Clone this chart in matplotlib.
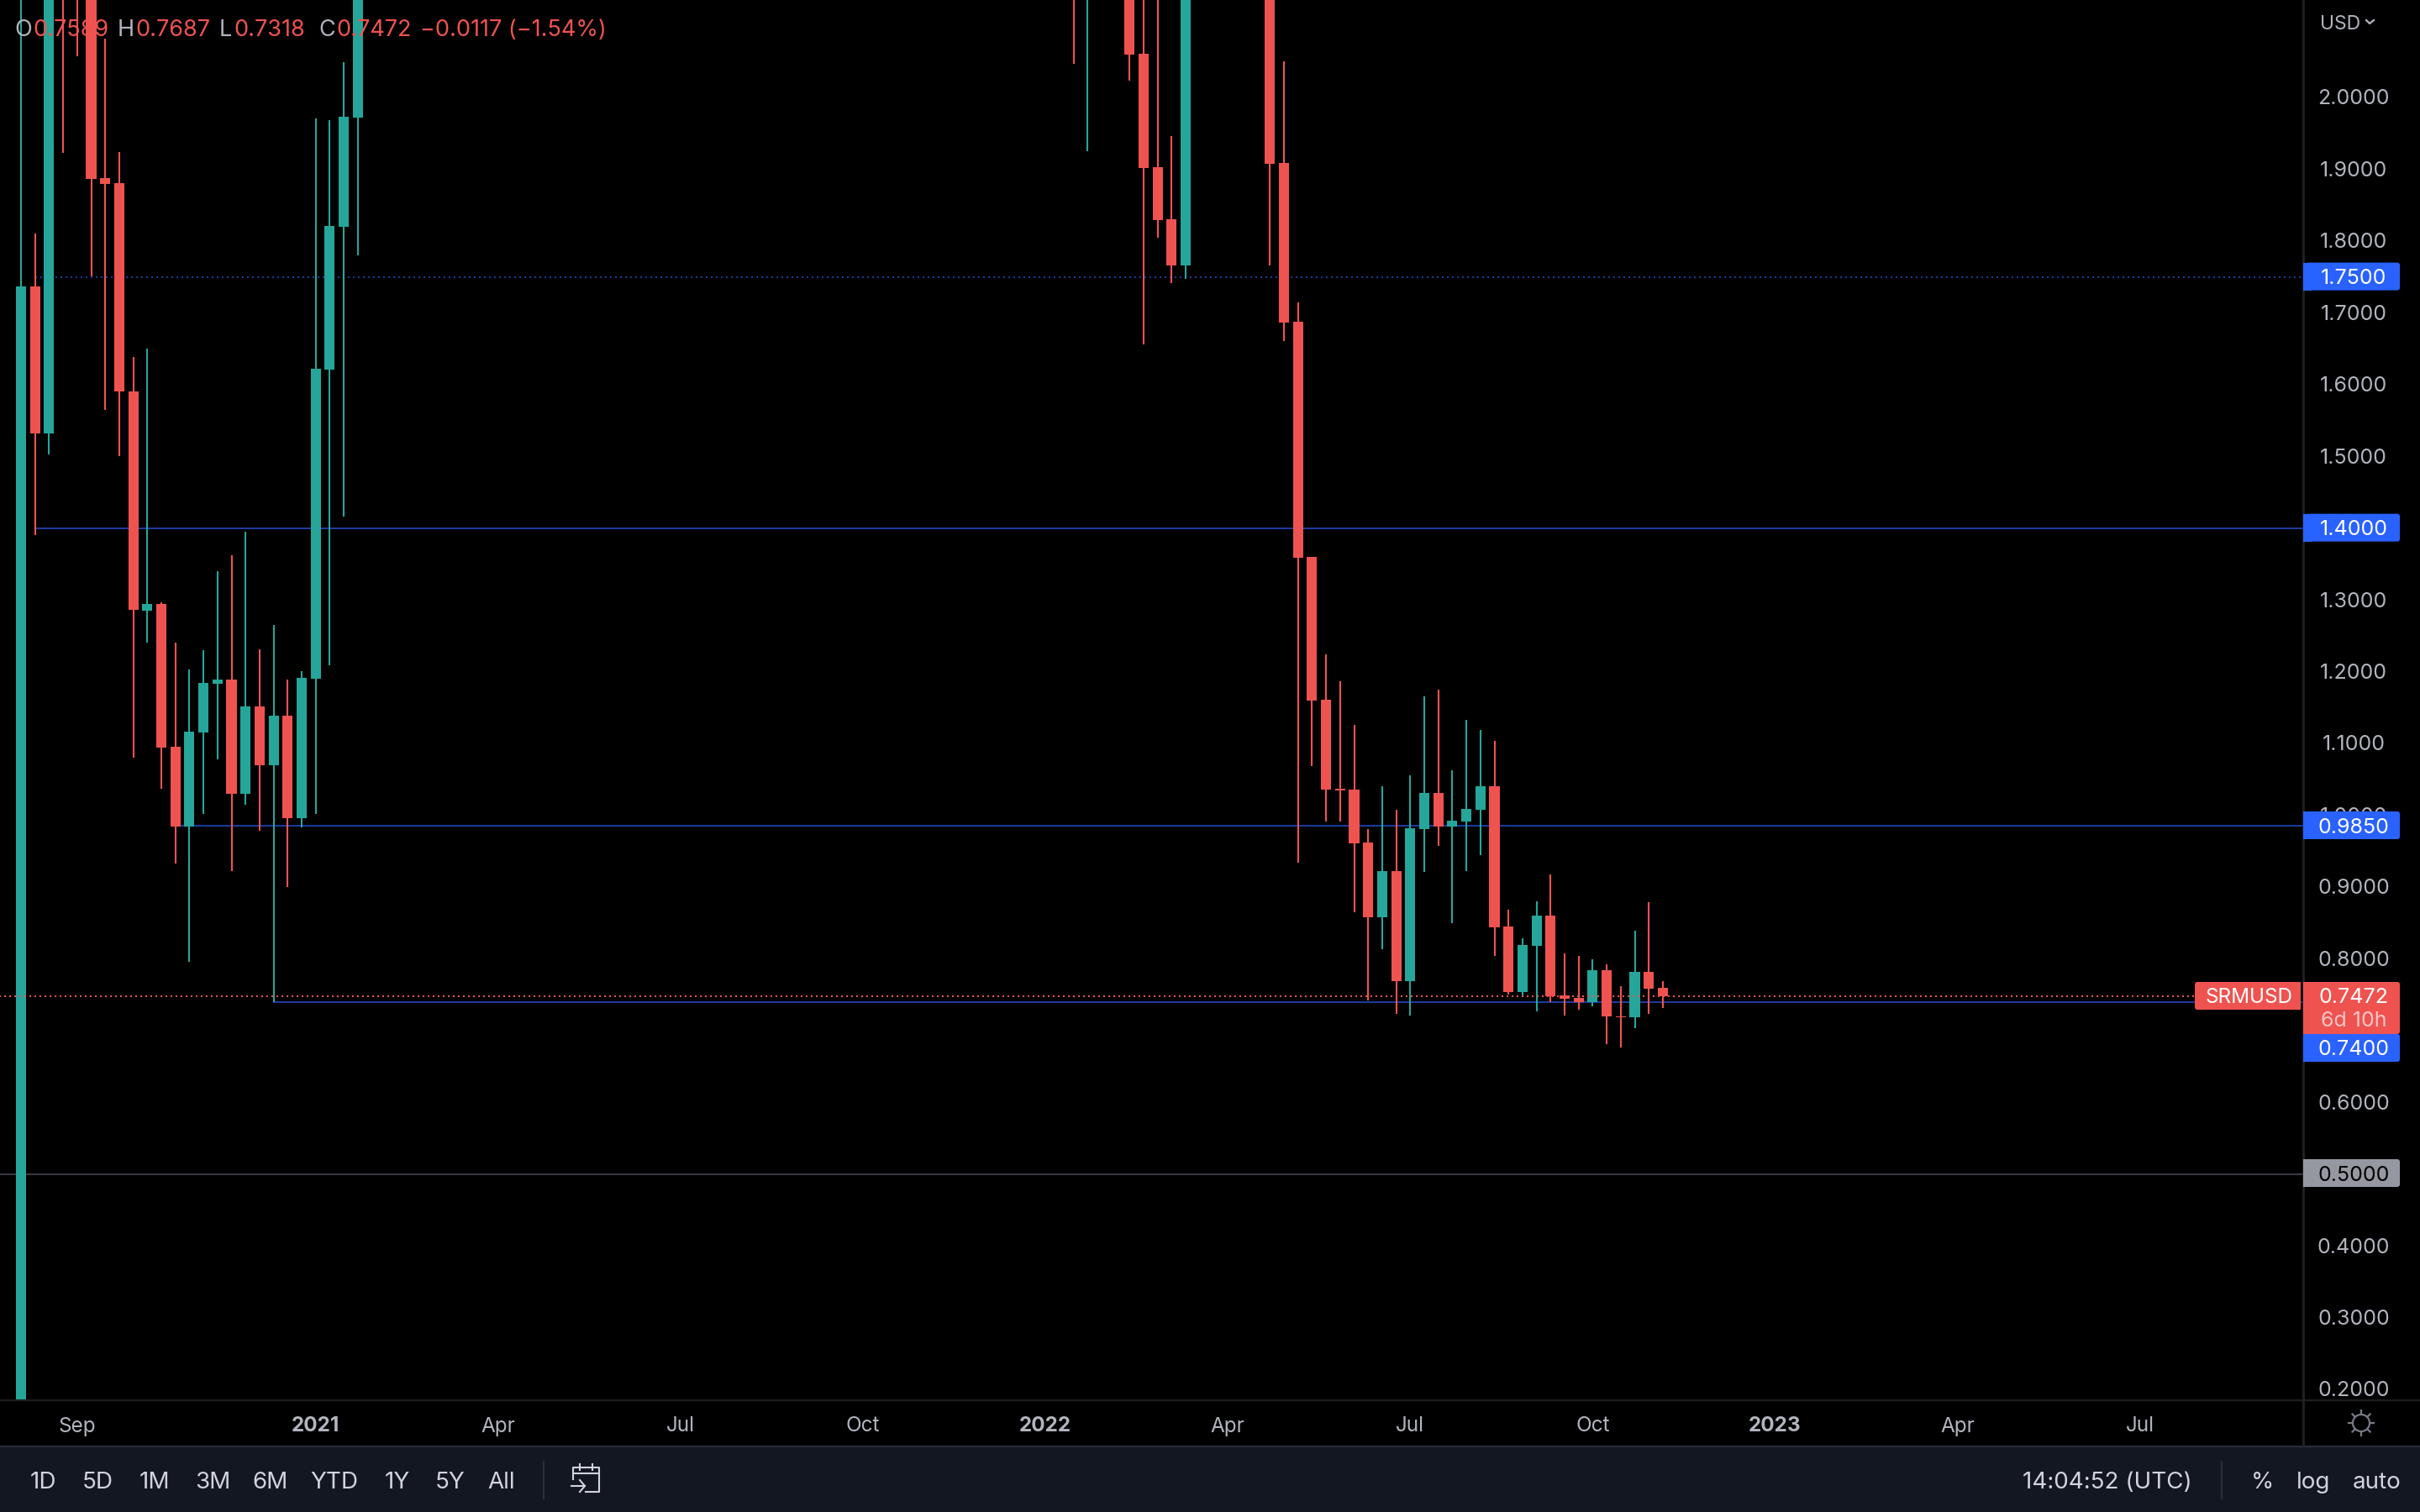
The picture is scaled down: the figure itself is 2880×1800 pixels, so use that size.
import matplotlib
matplotlib.use("Agg")
import matplotlib.pyplot as plt
from matplotlib.patches import FancyBboxPatch, Rectangle, Circle

# weekly candles, only the ones that reach into the visible price range
weeks = [0, 1, 2, 3, 4, 5, 6, 7, 8, 9, 10, 11, 12, 13, 14, 15, 16, 17, 18, 19,
         20, 21, 22, 23, 24, 75, 76, 79, 80, 81, 82, 83, 89, 90, 91, 92, 93, 94,
         95, 96, 97, 98, 99, 100, 101, 102, 103, 104, 105, 106, 107, 108, 109,
         110, 111, 112, 113, 114, 115, 116, 117]
opens = [0.15, 1.7367, 1.5324, 2.40, 2.35, 2.25, 1.8876, 1.8806, 1.5904, 1.2849,
         1.2942, 1.0953, 0.9841, 1.1152, 1.1831, 1.1889, 1.0297, 1.1514, 1.0695,
         1.1386, 0.9958, 1.1901, 1.6208, 1.8198, 1.9719, 2.30, 2.25, 2.20, 2.0609,
         1.9029, 1.8303, 1.7659, 2.30, 1.9087, 1.6875, 1.3598, 1.1608, 1.0368,
         1.0356, 0.9618, 0.8577, 0.9221, 0.7687, 0.9806, 1.0309, 0.9841, 0.9911,
         1.0075, 1.0403, 0.8448, 0.7535, 0.8179, 0.8600, 0.7488, 0.7453, 0.7395,
         0.7839, 0.7196, 0.7184, 0.7816, 0.7589]
highs = [2.45, 1.8104, 2.60, 2.50, 2.45, 2.30, 2.0819, 1.9239, 1.6389, 1.6500,
         1.2966, 1.2404, 1.2029, 1.2299, 1.3399, 1.3621, 1.3949, 1.2310, 1.2650,
         1.1889, 1.2006, 1.9707, 1.9684, 2.0497, 2.50, 2.40, 2.35, 2.30, 2.30,
         2.20, 1.9462, 2.30, 2.35, 2.0503, 1.7144, 1.3598, 1.2240, 1.1866, 1.1257,
         0.9806, 1.0403, 1.0075, 1.0555, 1.1655, 1.1749, 1.0625, 1.1327, 1.1187,
         1.1035, 0.8682, 0.8284, 0.8799, 0.9174, 0.8073, 0.8039, 0.7992, 0.7921,
         0.7617, 0.8390, 0.8787, 0.7687]
lows = [0.10, 1.3902, 1.5026, 1.9223, 2.0573, 1.7512, 1.5646, 1.5002, 1.0801,
        1.2404, 1.0368, 0.9326, 0.7956, 1.0016, 1.0777, 0.9221, 1.0145, 0.9782,
        0.7389, 0.8998, 0.9829, 1.0016, 1.2088, 1.4154, 1.7794, 2.0468, 1.9251,
        2.0234, 1.6559, 1.8045, 1.7413, 1.7472, 1.7659, 1.6606, 0.9338, 1.0684,
        0.9911, 0.9911, 0.8647, 0.7418, 0.8132, 0.7231, 0.7208, 0.9209, 0.9572,
        0.8495, 0.9221, 0.9443, 0.8039, 0.7500, 0.7477, 0.7266, 0.7395, 0.7208,
        0.7289, 0.7336, 0.6813, 0.6766, 0.7032, 0.7231, 0.7318]
closes = [1.7367, 1.5324, 2.30, 2.35, 2.25, 1.8868, 1.8794, 1.5898, 1.2855, 1.2942,
          1.0941, 0.9841, 1.1163, 1.1842, 1.1889, 1.0297, 1.1514, 1.0695, 1.1386,
          0.9958, 1.1912, 1.6220, 1.8209, 1.9731, 2.30, 2.25, 2.30, 2.0597, 1.9017,
          1.8291, 1.7659, 2.30, 1.9075, 1.6863, 1.3586, 1.1597, 1.0356, 1.0345,
          0.9607, 0.8577, 0.9221, 0.7687, 0.9817, 1.0309, 0.9841, 0.9923, 1.0087,
          1.0403, 0.8436, 0.7535, 0.8191, 0.8600, 0.7477, 0.7441, 0.7395, 0.7839,
          0.7196, 0.7185, 0.7816, 0.7582, 0.7472]

price_ticks = [2.0, 1.9, 1.8, 1.7, 1.6, 1.5, 1.3, 1.2, 1.1, 1.0, 0.9, 0.8, 0.6, 0.4, 0.3, 0.2]
tick_labels = ["2.0000", "1.9000", "1.8000", "1.7000", "1.6000", "1.5000", "1.3000", "1.2000",
               "1.1000", "1.0000", "0.9000", "0.8000", "0.6000", "0.4000", "0.3000", "0.2000"]
date_pos = [4, 21, 34, 47, 60, 73, 86, 99, 112, 125, 138, 151]
date_labels = ["Sep", "2021", "Apr", "Jul", "Oct", "2022", "Apr", "Jul", "Oct", "2023", "Apr", "Jul"]
range_buttons = ["1D", "5D", "1M", "3M", "6M", "YTD", "1Y", "5Y", "All"]
button_x = [51, 116, 184, 253, 322, 398, 473, 536, 597]
level_prices = [1.75, 1.40, 0.985, 0.74, 0.50]
level_start = [1, 1, 11, 18, -2]

UP = "#26a69a"
DOWN = "#ef5350"
BLUE = "#1e3a9e"
BADGE = "#2962ff"
TXT = "#b2b5be"
BAR = "#131722"

plt.rcParams["font.family"] = ["Inter", "DejaVu Sans"]

fig = plt.figure(figsize=(28.8, 18), dpi=100, facecolor="black")
W, H = 2880, 1800
plot_right, plot_bottom = 2741, 1667

ax = fig.add_axes([0, 1 - plot_bottom / H, plot_right / W, plot_bottom / H], facecolor="black")
ax.set_xlim(-25 / 16.7, (plot_right - 25) / 16.7)
ax.set_ylim(2 - (plot_bottom - 116) / 854.4, 2 + 116 / 854.4)
ax.axis("off")

# levels first, candles are drawn over them
for price, start in zip(level_prices, level_start):
    if price == 1.75:
        ax.plot([start, 170], [price, price], color=BLUE, lw=1.44, ls=(0, (1, 2)), zorder=1)
    elif price == 0.50:
        ax.plot([start, 170], [price, price], color="#3a3a42", lw=1.44, zorder=1)
    else:
        ax.plot([start, 170], [price, price], color=BLUE, lw=1.44, zorder=1)

for w, o, h, l, c in zip(weeks, opens, highs, lows, closes):
    col = UP if c >= o else DOWN
    ax.plot([w, w], [l, h], color=col, lw=1.5, solid_capstyle="butt", zorder=2)
    ax.add_patch(Rectangle((w - 0.36, min(o, c)), 0.72, abs(c - o), fc=col, ec="none", zorder=3))

ax.plot([-2, 154.9], [closes[-1], closes[-1]], color=DOWN, lw=1.44, ls=(0, (1, 2)), zorder=4)

# whole figure in pixels for the scale and the toolbar
ov = fig.add_axes([0, 0, 1, 1], facecolor="none")
ov.set_xlim(0, W)
ov.set_ylim(H, 0)
ov.axis("off")


def y_of(price):
    return 116 + (2 - price) * 854.4


def badge(y0, y1, col, left=2741, right=2856):
    ov.add_patch(FancyBboxPatch((left + 6, y0 + 3), right - left - 9, y1 - y0 - 6,
                                boxstyle="round,pad=3", fc=col, ec="none", zorder=6))
    ov.add_patch(Rectangle((left, y0), 10, y1 - y0, fc=col, ec="none", zorder=6))


# panels and separators
ov.add_patch(Rectangle((0, 1723), W, 77, fc=BAR, ec="none", zorder=1))
ov.plot([0, W], [1667, 1667], color="#1e1e22", lw=1.6, zorder=2)
ov.plot([0, W], [1722, 1722], color="#2a2e39", lw=1.6, zorder=2)
ov.plot([2741, 2741], [0, 1722], color="#222226", lw=2, zorder=2)
ov.plot([647, 647], [1740, 1784], color="#2a2e39", lw=1.6, zorder=2)
ov.plot([2644, 2644], [1740, 1784], color="#2a2e39", lw=1.6, zorder=2)

# price scale
for p, lab in zip(price_ticks, tick_labels):
    ov.text(2801, y_of(p) + 2, lab, color=TXT, fontsize=18, ha="center", va="center", zorder=5)
ov.text(2761, 29, "USD", color=TXT, fontsize=16.5, ha="left", va="center", zorder=5)
ov.plot([2816, 2820, 2825], [24, 28, 24], color=TXT, lw=1.6, zorder=5)

badge(y_of(1.75) - 17, y_of(1.75) + 16, BADGE)
ov.text(2801, y_of(1.75) + 2, "1.7500", color="white", fontsize=18, ha="center", va="center", zorder=7)
badge(y_of(1.4) - 17, y_of(1.4) + 16, BADGE)
ov.text(2801, y_of(1.4) + 2, "1.4000", color="white", fontsize=18, ha="center", va="center", zorder=7)
badge(966, 999, BADGE)
ov.text(2801, 985, "0.9850", color="white", fontsize=18, ha="center", va="center", zorder=7)
badge(1231, 1264, BADGE)
ov.text(2801, 1249, "0.7400", color="white", fontsize=18, ha="center", va="center", zorder=7)
badge(1380, 1413, "#9598a1")
ov.text(2801, 1399, "0.5000", color="black", fontsize=18, ha="center", va="center", zorder=7)

badge(1169, 1231, DOWN)
ov.text(2801, 1188, "0.7472", color="white", fontsize=18, ha="center", va="center", zorder=7)
ov.text(2801, 1215, "6d 10h", color="#f9c5c4", fontsize=18, ha="center", va="center", zorder=7)
ov.add_patch(FancyBboxPatch((2615, 1172), 120, 27, boxstyle="round,pad=3", fc=DOWN, ec="none", zorder=6))
ov.add_patch(Rectangle((2725, 1169), 13, 33, fc=DOWN, ec="none", zorder=6))
ov.text(2676, 1188, "SRMUSD", color="white", fontsize=17.5, ha="center", va="center", zorder=7)

# date scale
for pos, lab in zip(date_pos, date_labels):
    bold = lab.isdigit()
    ov.text(25 + 16.7 * pos, 1698, lab, color=TXT, fontsize=17.5, ha="center", va="center",
            fontweight="bold" if bold else "normal", zorder=5)

# sun icon
ov.add_patch(Circle((2810, 1694), 10, fc="none", ec="#787b86", lw=1.6, zorder=5))
for dx, dy in [(0, -15), (0, 15), (15, 0), (-15, 0), (10.5, -10.5), (-10.5, -10.5), (10.5, 10.5), (-10.5, 10.5)]:
    ov.plot([2810 + dx * 0.75, 2810 + dx], [1694 + dy * 0.75, 1694 + dy], color="#787b86", lw=1.6, zorder=5)

# toolbar
for x, lab in zip(button_x, range_buttons):
    ov.text(x, 1765, lab, color="#d1d4dc", fontsize=20, ha="center", va="center", zorder=5)
# calendar icon
ov.plot([682, 682, 713, 713, 697], [1761, 1747, 1747, 1776, 1776], color="#d1d4dc", lw=1.5, zorder=5)
ov.plot([682, 713], [1754, 1754], color="#d1d4dc", lw=1.5, zorder=5)
ov.plot([690, 690], [1743, 1750], color="#d1d4dc", lw=1.5, zorder=5)
ov.plot([705, 705], [1743, 1750], color="#d1d4dc", lw=1.5, zorder=5)
ov.plot([680, 696], [1769, 1769], color="#d1d4dc", lw=1.5, zorder=5)
ov.plot([690, 696, 690], [1762, 1769, 1776], color="#d1d4dc", lw=1.5, zorder=5)
ov.text(2508, 1765, "14:04:52 (UTC)", color="#d1d4dc", fontsize=20, ha="center", va="center", zorder=5)
ov.text(2692, 1765, "%", color="#d1d4dc", fontsize=20, ha="center", va="center", zorder=5)
ov.text(2753, 1765, "log", color="#d1d4dc", fontsize=20, ha="center", va="center", zorder=5)
ov.text(2829, 1765, "auto", color="#d1d4dc", fontsize=20, ha="center", va="center", zorder=5)

# ohlc legend, pieces placed one after another
legend = [(17, "O", TXT), (39, "0.7589", DOWN), (140, "H", TXT), (161, "0.7687", DOWN),
          (261, "L", TXT), (278, "0.7318", DOWN), (379, "C", TXT), (400, "0.7472", DOWN),
          (500, "\u22120.0117 (\u22121.54%)", DOWN)]
for x, s, col in legend:
    ov.text(x, 36, s, color=col, fontsize=19.5, ha="left", va="center", zorder=5)

fig.savefig("out.png", dpi=100, facecolor="black")
